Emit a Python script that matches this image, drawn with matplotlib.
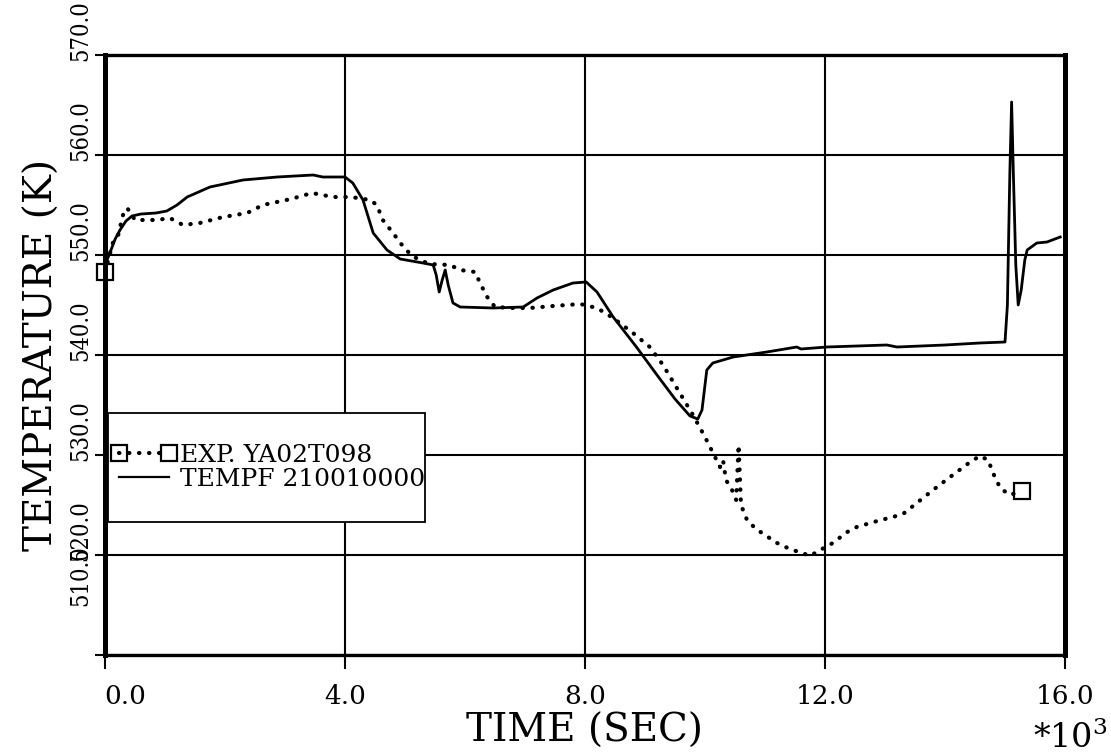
import matplotlib
matplotlib.use("Agg")
import matplotlib.pyplot as plt
from matplotlib.patches import Rectangle
from matplotlib.lines import Line2D
from matplotlib.transforms import ScaledTranslation

# ---- data (time in 1e3 s, temperature in K) ----
time_sim = [0.0, 0.08, 0.17, 0.25, 0.35, 0.45, 0.6, 0.85, 1.03, 1.2, 1.37, 1.75,
            2.3, 2.87, 3.47, 3.63, 4.0, 4.13, 4.3, 4.47, 4.7, 4.92, 5.3, 5.47,
            5.52, 5.57, 5.62, 5.67, 5.72, 5.8, 5.92, 6.47, 6.97, 7.2, 7.47, 7.8,
            8.02, 8.2, 8.47, 8.87, 9.2, 9.5, 9.75, 9.88, 9.95, 10.03, 10.13,
            10.47, 11.03, 11.53, 11.6, 12.03, 13.03, 13.2, 14.0, 14.58, 15.0,
            15.04, 15.08, 15.11, 15.14, 15.18, 15.22, 15.27, 15.33, 15.37,
            15.53, 15.7, 15.92]
temp_sim = [549.0, 550.2, 551.6, 552.5, 553.4, 553.9, 554.1, 554.2, 554.4, 555.0,
            555.8, 556.8, 557.5, 557.8, 558.0, 557.8, 557.8, 557.2, 555.5, 552.2,
            550.5, 549.6, 549.2, 549.0, 548.0, 546.3, 547.5, 548.5, 547.0, 545.2,
            544.8, 544.7, 544.8, 545.7, 546.5, 547.2, 547.3, 546.3, 543.8, 540.7,
            538.0, 535.6, 533.9, 533.6, 534.5, 538.5, 539.2, 539.8, 540.3, 540.8,
            540.6, 540.8, 541.0, 540.8, 541.0, 541.2, 541.3, 545.0, 558.0, 565.3,
            558.0, 549.0, 545.0, 546.5, 549.5, 550.5, 551.2, 551.3, 551.8]

time_exp = [0.0, 0.13, 0.22, 0.3, 0.37, 0.5, 0.87, 1.08, 1.3, 1.58, 1.97, 2.37,
            2.63, 3.1, 3.45, 3.8, 4.1, 4.42, 4.53, 4.63, 4.8, 5.0, 5.15, 5.4,
            5.75, 5.92, 6.17, 6.25, 6.37, 6.5, 6.8, 7.08, 7.47, 7.92, 8.2, 8.47,
            8.8, 9.08, 9.3, 9.55, 9.8, 10.0, 10.15, 10.25, 10.3, 10.35, 10.45,
            10.52, 10.56, 10.6, 10.7, 10.85, 11.0, 11.2, 11.45, 11.58, 11.75,
            11.92, 12.13, 12.37, 12.53, 12.87, 13.13, 13.3, 13.53, 13.8, 14.13,
            14.42, 14.58, 14.72, 14.8, 14.92, 15.08, 15.28]
temp_exp = [548.3, 551.2, 552.0, 554.0, 554.7, 553.5, 553.5, 553.7, 553.0, 553.2,
            553.8, 554.2, 555.0, 555.6, 556.2, 555.8, 555.8, 555.5, 555.0, 553.5,
            552.2, 550.6, 549.8, 549.1, 549.0, 548.5, 548.3, 547.2, 545.8, 544.8,
            544.7, 544.7, 544.9, 545.1, 544.7, 543.7, 542.2, 540.8, 539.0, 536.5,
            534.0, 531.8, 530.0, 528.8, 529.5, 527.5, 526.5, 525.5, 531.0, 525.0,
            523.5, 522.6, 522.0, 521.2, 520.5, 520.3, 519.9, 520.5, 521.2, 522.3,
            522.8, 523.4, 523.8, 524.1, 525.2, 526.5, 528.0, 529.3, 529.9, 529.5,
            528.2, 526.7, 526.0, 526.4]

x_ticks = [0, 4, 8, 12, 16]
x_tick_labels = ["0.0", "4.0", "8.0", "12.0", "16.0"]
y_ticks = [510, 520, 530, 540, 550, 560, 570]
y_tick_labels = ["510.0", "520.0", "530.0", "540.0", "550.0", "560.0", "570.0"]

exp_label = "EXP. YA02T098"
sim_label = "TEMPF 210010000"

plt.rcParams["font.family"] = ["DejaVu Serif"]
plt.rcParams["mathtext.fontset"] = "dejavuserif"

fig = plt.figure(figsize=(11.11, 7.55), dpi=100)
ax = fig.add_axes([105 / 1111, 100 / 755, 960 / 1111, 600 / 755])

ax.set_xlim(0, 16)
ax.set_ylim(510, 570)

ax.grid(True, color="black", linewidth=1.5, zorder=1)
ax.set_axisbelow(True)

dot_style = dict(color="black", linewidth=3.0, linestyle=(0, (0.1, 2.3)),
                 dash_capstyle="round", marker="s", markersize=11.5,
                 markerfacecolor="none", markeredgecolor="black",
                 markeredgewidth=1.6)
ax.plot(time_exp, temp_exp, markevery=[0, -1], clip_on=False, zorder=3, **dot_style)
ax.plot(time_sim, temp_sim, color="black", linewidth=2.0, zorder=4)

for side in ["left", "right"]:
    ax.spines[side].set_linewidth(3.6)
for side in ["top", "bottom"]:
    ax.spines[side].set_linewidth(2.4)

ax.set_xticks(x_ticks, labels=x_tick_labels)
ax.set_yticks(y_ticks, labels=y_tick_labels, rotation=90, va="bottom")
ax.tick_params(axis="both", direction="out", width=1.5, colors="black")
ax.tick_params(axis="x", length=10, pad=11, labelsize=19)
ax.tick_params(axis="y", length=7, pad=2, labelsize=17)

for lab in ax.get_yticklabels():
    lab.set_fontstretch("condensed")
    lab.set_transform(lab.get_transform() + ScaledTranslation(0, -6 / 100, fig.dpi_scale_trans))
lab510 = ax.get_yticklabels()[0]
lab510.set_transform(lab510.get_transform() + ScaledTranslation(0, 0.55, fig.dpi_scale_trans))

lab0 = ax.get_xticklabels()[0]
lab0.set_transform(lab0.get_transform() + ScaledTranslation(0.2, 0, fig.dpi_scale_trans))

ax.set_xlabel("TIME (SEC)", fontsize=28, labelpad=3)
ax.set_ylabel("TEMPERATURE (K)", fontsize=28, labelpad=6)

fig.text(1108 / 1111, 1 - 738 / 755, "*10$^3$", fontsize=24, ha="right", va="center")

# legend box
ax.add_patch(Rectangle((0.003, 0.222), 0.33, 0.181, transform=ax.transAxes,
                       facecolor="white", edgecolor="black", linewidth=1.3, zorder=5))
handles = [Line2D([], [], **dot_style),
           Line2D([], [], color="black", linewidth=1.6)]
leg = ax.legend(handles, [exp_label, sim_label], loc="center left",
                bbox_to_anchor=(0.004, 0.3125), frameon=False, fontsize=18,
                handlelength=2.6, handletextpad=0.15, labelspacing=0.05,
                borderpad=0.1, borderaxespad=0, numpoints=2)
leg.set_zorder(6)

fig.savefig("out.png", dpi=100)
